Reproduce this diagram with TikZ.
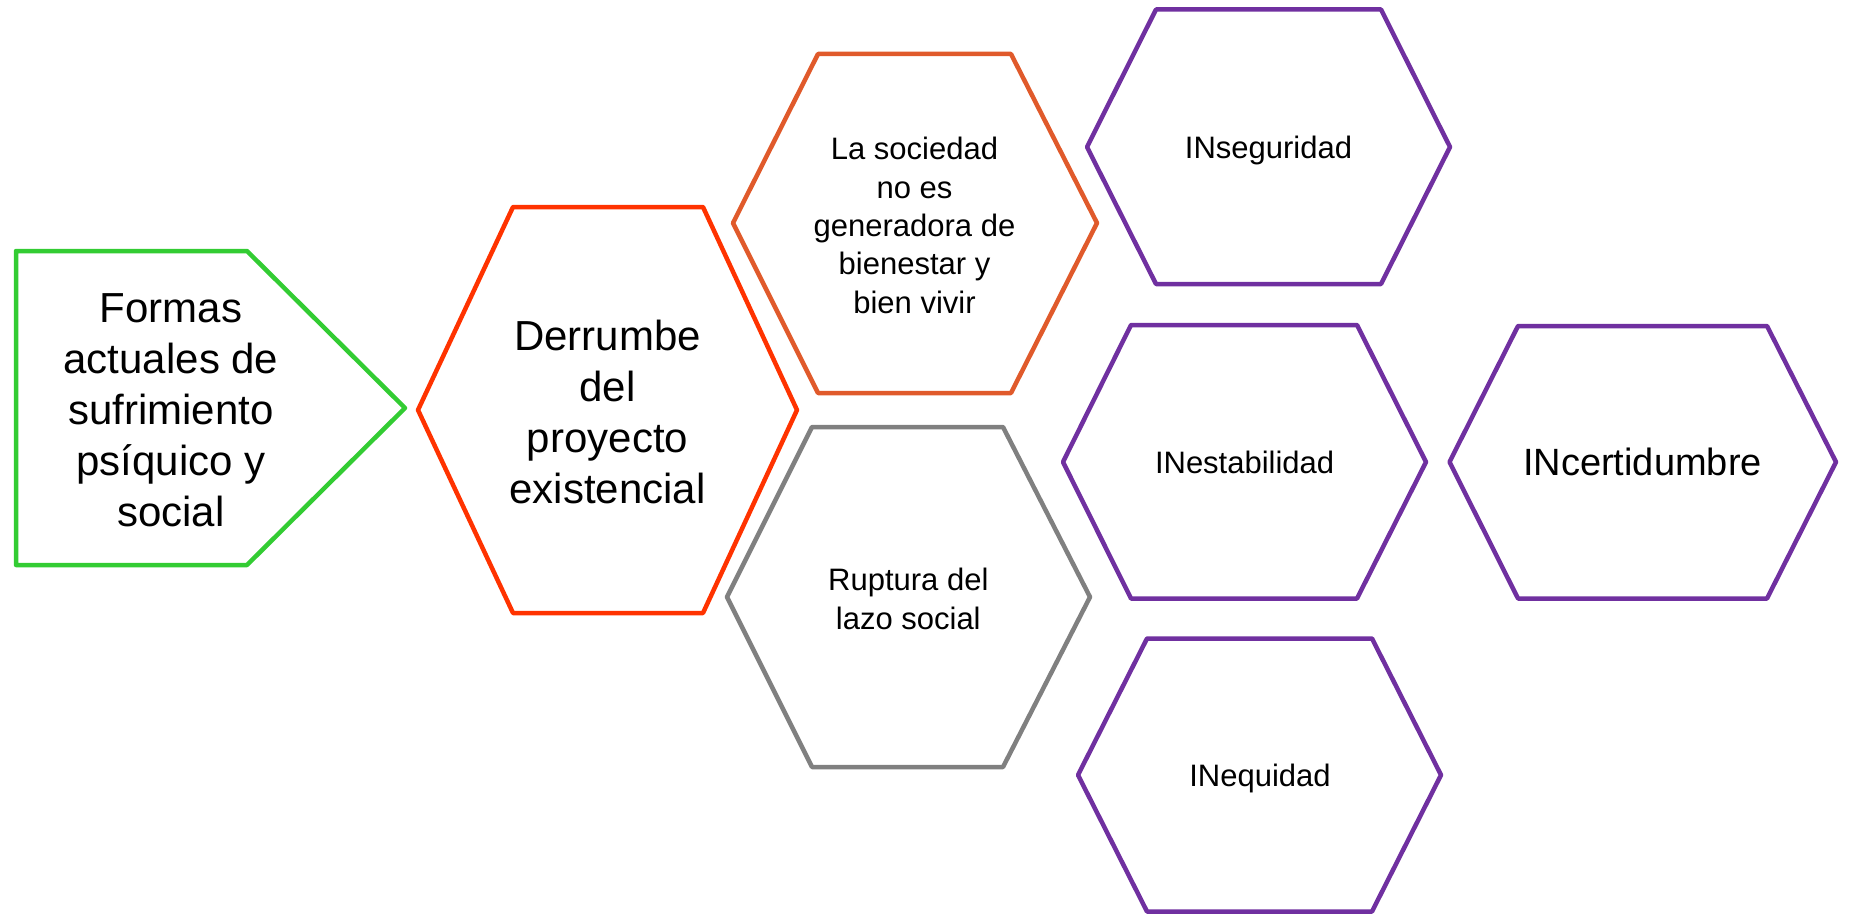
\documentclass[tikz,border=0pt]{standalone}
\usepackage{fontspec}
\setmainfont{Liberation Sans}
\definecolor{cgreen}{HTML}{33CC33}
\definecolor{cred}{HTML}{FF3300}
\definecolor{corange}{HTML}{E05A2B}
\definecolor{cgray}{HTML}{808080}
\definecolor{cpurple}{HTML}{7030A0}
\tikzset{
  shapeline/.style={line width=4.5pt, line join=round},
  bigtext/.style={inner sep=0pt, align=center, font=\fontsize{42}{51}\selectfont},
  midtext/.style={inner sep=0pt, align=center, font=\fontsize{31}{38.3}\selectfont},
  smallone/.style={inner sep=0pt, text height=22.2pt, text depth=0pt, font=\fontsize{31}{31}\selectfont},
  largeone/.style={inner sep=0pt, text height=27.2pt, text depth=0pt, font=\fontsize{38}{38}\selectfont},
}
\begin{document}
\begin{tikzpicture}[x=1pt,y=-1pt]
\useasboundingbox (0,0) rectangle (1851,915);
% pentagon
\draw[shapeline, cgreen] (16,251) -- (247,251) -- (405,408) -- (247,565) -- (16,565) -- cycle;
\node[bigtext] (formas) at (171,410.5) {Formas\\actuales de\\sufrimiento\\psíquico y\\social};
% Derrumbe
\draw[shapeline, cred] (418,410) -- (513,207) -- (703,207) -- (797,410) -- (703,613) -- (513,613) -- cycle;
\node[bigtext] (derrumbe) at (607.5,411.5) {Derrumbe\\del\\proyecto\\existencial};
% La sociedad
\draw[shapeline, corange] (733,223) -- (818,54) -- (1011,54) -- (1097,223) -- (1011,393) -- (818,393) -- cycle;
\node[midtext] (sociedad) at (914.5,225.5) {La sociedad\\no es\\generadora de\\bienestar y\\bien vivir};
% Ruptura
\draw[shapeline, cgray] (727,597) -- (812,427) -- (1003,427) -- (1090,597) -- (1003,767) -- (812,767) -- cycle;
\node[midtext] (ruptura) at (908.3,599) {Ruptura del\\lazo social};
% INseguridad
\draw[shapeline, cpurple] (1087,147) -- (1156,9.5) -- (1381,9.5) -- (1450,147) -- (1381,284) -- (1156,284) -- cycle;
\node[smallone] (inseguridad) at (1268.5,147) {INseguridad};
% INestabilidad
\draw[shapeline, cpurple] (1063,462) -- (1131,325) -- (1357,325) -- (1426,462) -- (1357,598.5) -- (1131,598.5) -- cycle;
\node[smallone] (inestabilidad) at (1244.6,462) {INestabilidad};
% INequidad
\draw[shapeline, cpurple] (1078,775) -- (1147,638.5) -- (1372,638.5) -- (1441,775) -- (1372,911.5) -- (1147,911.5) -- cycle;
\node[smallone] (inequidad) at (1260,775) {INequidad};
% INcertidumbre
\draw[shapeline, cpurple] (1449.5,462) -- (1518,326) -- (1767,326) -- (1836,462) -- (1767,598.5) -- (1518,598.5) -- cycle;
\node[largeone] (incertidumbre) at (1642.5,462) {INcertidumbre};
\end{tikzpicture}
\end{document}
